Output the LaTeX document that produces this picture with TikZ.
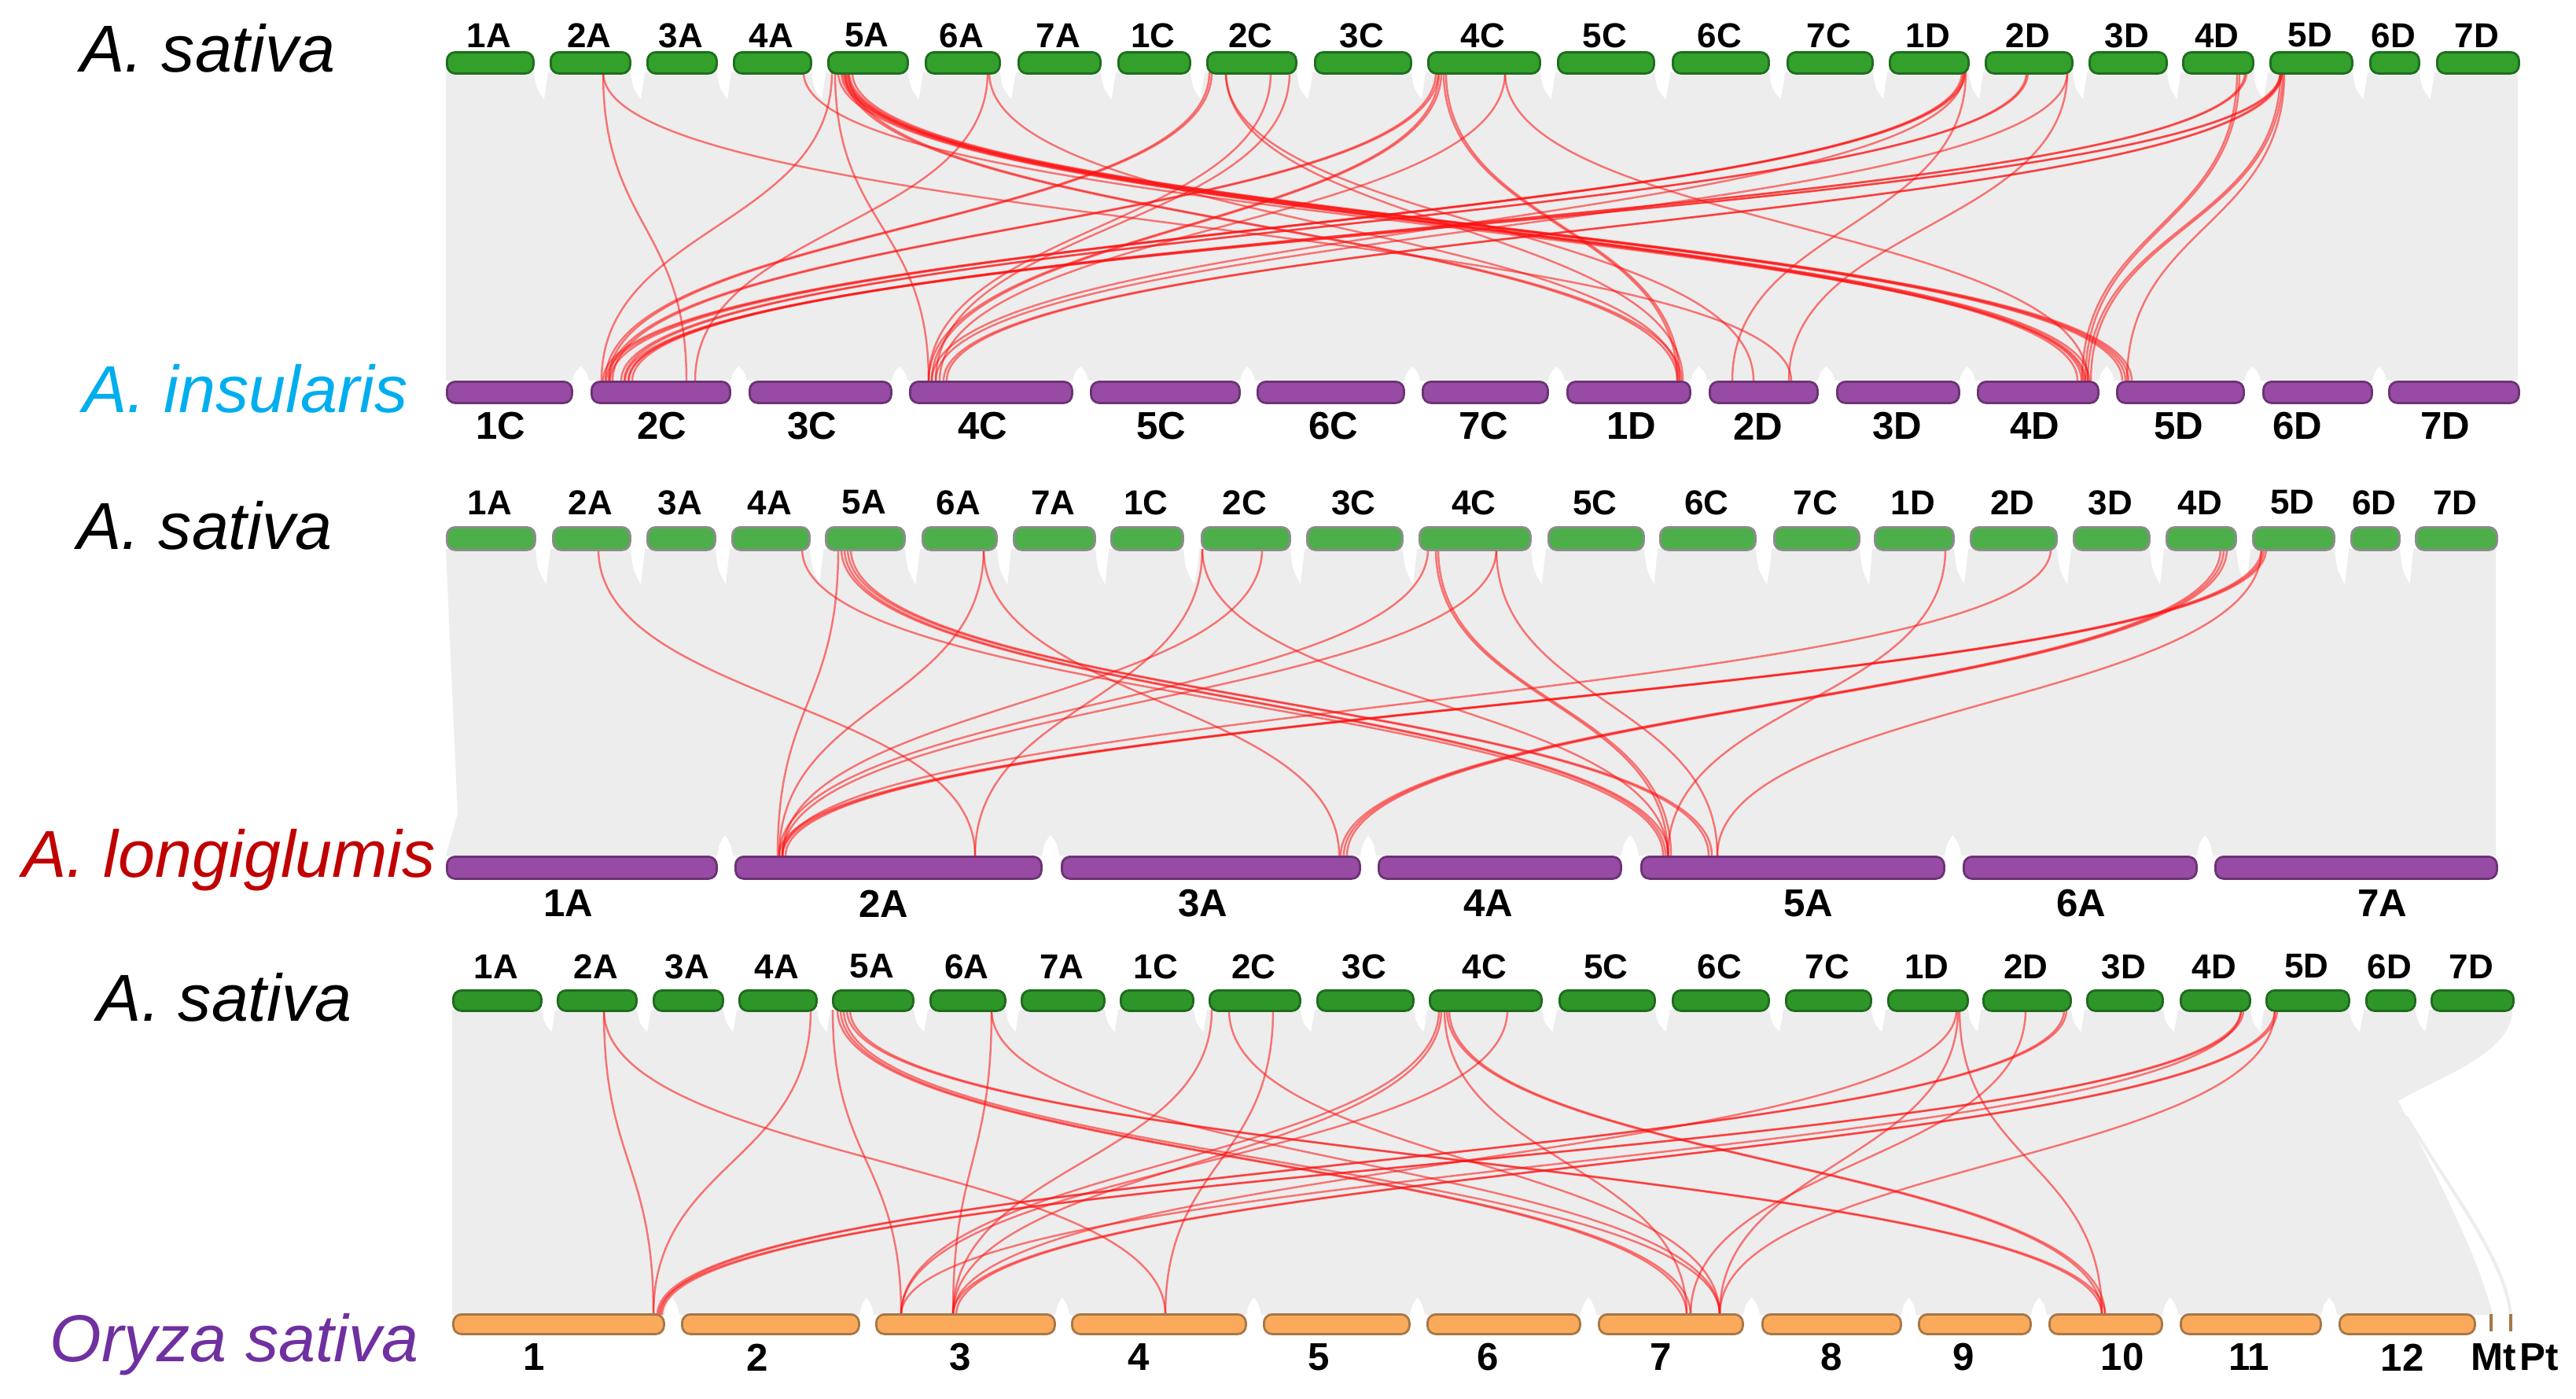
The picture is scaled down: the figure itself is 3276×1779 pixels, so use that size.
\documentclass[tikz,border=0pt]{standalone}
\usepackage{fontspec}
\setmainfont{Liberation Sans}
\definecolor{bggray}{HTML}{EDEDED}
\definecolor{linkred}{HTML}{FF1010}
\definecolor{greenA}{HTML}{33A02C}
\definecolor{greenAd}{HTML}{1E6E1E}
\definecolor{greenB}{HTML}{4CAF4A}
\definecolor{greenBd}{HTML}{8C8C8C}
\definecolor{greenC}{HTML}{2E9628}
\definecolor{greenCd}{HTML}{1F6B1F}
\definecolor{purpbar}{HTML}{984BA4}
\definecolor{purpbard}{HTML}{6B3374}
\definecolor{orgbar}{HTML}{FAAA5A}
\definecolor{orgbard}{HTML}{A57848}
\definecolor{insucol}{HTML}{00AEEF}
\definecolor{longcol}{HTML}{C00000}
\definecolor{oryzacol}{HTML}{7030A0}
\tikzset{
  bg/.style={fill=bggray, draw=none},
  spike/.style={fill=white, draw=none},
  redlink/.style={draw=linkred, line width=0.7pt, opacity=0.55},
  chrbar/.style={rectangle, rounded corners=3pt, inner sep=0pt, line width=0.8pt, anchor=north west},
  barA/.style={chrbar, fill=greenA, draw=greenAd},
  barB/.style={chrbar, fill=greenB, draw=greenBd},
  barC/.style={chrbar, fill=greenC, draw=greenCd},
  barP/.style={chrbar, fill=purpbar, draw=purpbard},
  barO/.style={chrbar, fill=orgbar, draw=orgbard},
  toplab/.style={font=\bfseries\fontsize{12.5}{13}\selectfont, inner sep=0pt},
  botlab/.style={font=\bfseries\fontsize{14}{15}\selectfont, inner sep=0pt},
  species/.style={font=\itshape\fontsize{24}{28}\selectfont, inner sep=0pt, anchor=base west},
  orgtick/.style={draw=orgbard, line width=0.9pt},
}
\newcommand{\lnk}[4]{\draw[redlink] (#1,#3) .. controls (#1,{(#3+#4)/2}) and (#2,{(#3+#4)/2}) .. (#2,#4);}
\newcommand{\spkdown}[4]{\fill[spike] ({#1+2},#3) .. controls ({#1+5},{#3+0.6*#4}) .. ({(#1+#2)/2+4},{#3+#4}) .. controls ({#2-4},{#3+0.5*#4}) .. ({#2-2},#3) -- cycle;}
\newcommand{\spkup}[4]{\fill[spike] ({#1+2},#3) .. controls ({#1+5},{#3-0.6*#4}) .. ({(#1+#2)/2},{#3-#4}) .. controls ({#2-5},{#3-0.6*#4}) .. ({#2-2},#3) -- cycle;}
\begin{document}
\begin{tikzpicture}[x=0.01cm,y=-0.01cm]
\useasboundingbox (0,0) rectangle (3276,1779);
\fill[white] (0,0) rectangle (3276,1779);

% ---------------- backgrounds ----------------
\fill[bg] (567,92) rectangle (3202,484);
\fill[bg] (567,698) -- (3174,698) -- (3174,1088) -- (567,1088) -- (582,1035) -- cycle;
\fill[bg] (575,1284) -- (3195,1284) .. controls (3195,1340) and (3100,1370) .. (3050,1400)
   .. controls (3090,1480) and (3150,1590) .. (3170,1672) -- (575,1672) -- cycle;
\draw[bggray, line width=1.2pt] (3060,1420) .. controls (3120,1520) and (3185,1600) .. (3193,1672);

% ---------------- white spikes ----------------
\foreach \e/\s in {677/699,800/822,910/932,1030/1052,1153/1176,1270/1294,1398/1421,1512/1534,1647/1671,1793/1815,1957/1980,2102/2126,2248/2272,2380/2402,2502/2524,2634/2656,2754/2775,2864/2886,2990/3013,3075/3098}{\spkdown{\e}{\s}{92}{34}}
\foreach \e/\s in {726/751,927/952,1132/1156,1362/1386,1575/1598,1784/1808,1967/1992,2148/2173,2310/2335,2490/2514,2667/2691,2852/2877,3015/3037}{\spkup{\e}{\s}{484}{18}}
\foreach \e/\s in {679/702,800/822,908/930,1028/1049,1149/1172,1266/1288,1391/1412,1503/1527,1639/1661,1782/1804,1945/1968,2089/2110,2231/2255,2363/2383,2483/2505,2614/2636,2732/2754,2842/2864,2967/2989,3050/3071}{\spkdown{\e}{\s}{698}{45}}
\foreach \e/\s in {910/934,1323/1349,1728/1752,2060/2086,2471/2496,2792/2816}{\spkup{\e}{\s}{1088}{26}}
\foreach \e/\s in {687/708,808/830,918/939,1037/1058,1160/1182,1277/1298,1403/1424,1516/1537,1652/1674,1796/1817,1959/1982,2103/2126,2248/2270,2378/2400,2501/2521,2632/2653,2749/2772,2860/2881,2986/3008,3070/3091}{\spkdown{\e}{\s}{1284}{28}}
\foreach \e/\s in {843/866,1091/1113,1340/1362,1583/1606,1791/1814,2008/2032,2215/2240,2416/2439,2581/2605,2748/2772,2950/2974}{\spkup{\e}{\s}{1672}{22}}

% ---------------- red links: panel 1 ----------------
\foreach \a/\b in {767/873,767/2278,1022/2650,1058/765,1062/1181,
  1066/2642,1070/2647,1074/2652,1078/2657,1072/2699,1076/2703,1080/2707,1084/2711,
  1075/2133,1079/2138,1256/884,1258/2135,1538/770,1541/774,1559/2140,1559/2230,
  1616/1181,1640/1190,1826/775,1829/779,1830/1181,1833/1185,1836/2133,1839/2136,
  1914/1195,1914/2655,2495/767,2497/771,2499/776,2498/1185,2500/2203,
  2577/790,2579/794,2629/1190,2629/2275,2845/2648,2848/2652,2855/800,2857/804,
  2900/795,2902/799,2900/1200,2902/1204,2900/2655,2903/2659,2905/2705}{\lnk{\a}{\b}{92}{484}}
% ---------------- red links: panel 2 ----------------
\foreach \a/\b in {761/1240,1066/989,1020/2115,1070/2118,1074/2122,1078/2173,1082/2177,
  1251/991,1251/1703,1529/1240,1529/2121,1605/995,1816/991,1903/995,
  1826/2121,1829/2125,1903/2184,2474/2121,2608/995,
  2824/1705,2828/1709,2832/1713,2876/991,2879/995,2882/999,2876/2184}{\lnk{\a}{\b}{698}{1088}}
% ---------------- red links: panel 3 ----------------
\foreach \a/\b in {768/831,768/1482,1031/831,1059/1146,1065/2145,1069/2150,1073/2187,
  1077/2673,1081/2677,1261/1212,1261/2187,1541/1212,1563/2187,1619/1482,
  1830/1146,1833/1212,1837/2145,1840/2673,1843/2677,1917/1146,
  2492/2673,2490/2187,2488/1212,2576/2150,2625/836,2628/840,
  2850/838,2853/842,2893/1212,2896/1216,2893/2187,2850/1146}{\lnk{\a}{\b}{1284}{1672}}

% ---------------- panel 1 bars ----------------
\foreach \n/\a/\b in {1A/567/677,2A/699/800,3A/822/910,4A/932/1030,5A/1052/1153,6A/1176/1270,7A/1294/1398,1C/1421/1512,2C/1534/1647,3C/1671/1793,4C/1815/1957,5C/1980/2102,6C/2126/2248,7C/2272/2380,1D/2402/2502,2D/2524/2634,3D/2656/2754,4D/2775/2864,5D/2886/2990,6D/3013/3075,7D/3098/3202}{
  \node[barA, minimum width={(\b-\a)*0.01cm}, minimum height=0.27cm] (pa\n) at (\a,65) {};
  \node[toplab] (pal\n) at ({(\a+\b)/2},45) {\n};}
\foreach \n/\a/\b/\l in {1C/567/726/637,2C/751/927/842,3C/952/1132/1033,4C/1156/1362/1250,5C/1386/1575/1477,6C/1598/1784/1696,7C/1808/1967/1887,1D/1992/2148/2075,2D/2173/2310/2236,3D/2335/2490/2413,4D/2514/2667/2588,5D/2691/2852/2771,6D/2877/3015/2922,7D/3037/3202/3110}{
  \node[barP, minimum width={(\b-\a)*0.01cm}, minimum height=0.27cm] (pb\n) at (\a,484) {};
  \node[botlab] (pbl\n) at (\l,542) {\n};}

% ---------------- panel 2 bars ----------------
\foreach \n/\a/\b in {1A/567/679,2A/702/800,3A/822/908,4A/930/1028,5A/1049/1149,6A/1172/1266,7A/1288/1391,1C/1412/1503,2C/1527/1639,3C/1661/1782,4C/1804/1945,5C/1968/2089,6C/2110/2231,7C/2255/2363,1D/2383/2483,2D/2505/2614,3D/2636/2732,4D/2754/2842,5D/2864/2967,6D/2989/3050,7D/3071/3174}{
  \node[barB, minimum width={(\b-\a)*0.01cm}, minimum height=0.29cm] (qa\n) at (\a,669) {};
  \node[toplab] (qal\n) at ({(\a+\b)/2},639) {\n};}
\foreach \n/\a/\b/\l in {1A/567/910/723,2A/934/1323/1124,3A/1349/1728/1530,4A/1752/2060/1893,5A/2086/2471/2300,6A/2496/2792/2647,7A/2816/3174/3030}{
  \node[barP, minimum width={(\b-\a)*0.01cm}, minimum height=0.28cm] (qb\n) at (\a,1088) {};
  \node[botlab] (qbl\n) at (\l,1149) {\n};}

% ---------------- panel 3 bars ----------------
\foreach \n/\a/\b in {1A/575/687,2A/708/808,3A/830/918,4A/939/1037,5A/1058/1160,6A/1182/1277,7A/1298/1403,1C/1424/1516,2C/1537/1652,3C/1674/1796,4C/1817/1959,5C/1982/2103,6C/2126/2248,7C/2270/2378,1D/2400/2501,2D/2521/2632,3D/2653/2749,4D/2772/2860,5D/2881/2986,6D/3008/3070,7D/3091/3195}{
  \node[barC, minimum width={(\b-\a)*0.01cm}, minimum height=0.26cm] (ra\n) at (\a,1258) {};
  \node[toplab] (ral\n) at ({(\a+\b)/2},1229) {\n};}
\foreach \n/\a/\b/\l in {1/575/843/679,2/866/1091/963,3/1113/1340/1221,4/1362/1583/1448,5/1606/1791/1677,6/1814/2008/1892,7/2032/2215/2112,8/2240/2416/2329,9/2439/2581/2497,10/2605/2748/2699,11/2772/2950/2860,12/2974/3146/3055}{
  \node[barO, minimum width={(\b-\a)*0.01cm}, minimum height=0.25cm] (rb\n) at (\a,1670) {};
  \node[botlab] (rbl\n) at (\l,1726) {\n};}
\draw[orgtick] (3168,1671) -- (3168,1693);
\draw[orgtick] (3193,1671) -- (3193,1693);
\node[botlab] (rblMt) at (3171,1726) {Mt};
\node[botlab] (rblPt) at (3229,1726) {Pt};

% ---------------- species names ----------------
\node[species] (sp1) at (102,92) {A. sativa};
\node[species, text=insucol] (sp2) at (105,524) {A. insularis};
\node[species] (sp3) at (98,698) {A. sativa};
\node[species, text=longcol] (sp4) at (28,1115) {A. longiglumis};
\node[species] (sp5) at (123,1298) {A. sativa};
\node[species, text=oryzacol] (sp6) at (63,1731) {Oryza sativa};
\end{tikzpicture}
\end{document}
